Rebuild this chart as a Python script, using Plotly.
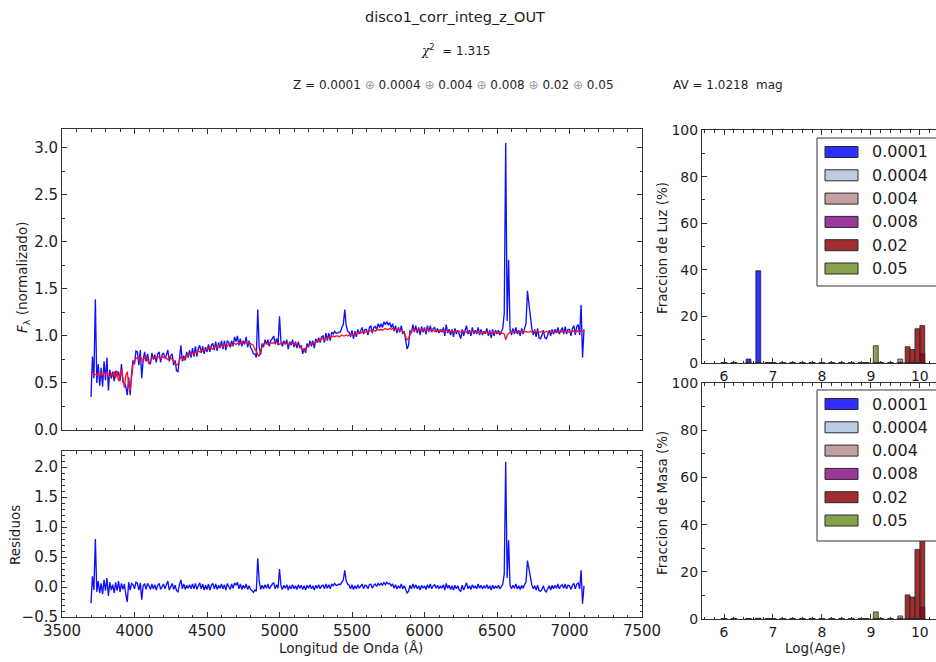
import numpy as np
import plotly.graph_objects as go

W, H = 936, 662

# ---------------------------------------------------------------- spectrum
wave = np.arange(3700, 7101, 10)  # Angstrom sampling grid

model_flux = [
    0.62, 0.60, 0.60, 0.59, 0.58, 0.60, 0.57, 0.60, 0.58, 0.61,  # 3700
    0.59, 0.62, 0.57, 0.56, 0.60, 0.58, 0.62, 0.55, 0.63, 0.52,  # 3800
    0.60, 0.64, 0.55, 0.45, 0.58, 0.62, 0.48, 0.42, 0.55, 0.70,  # 3900
    0.73, 0.76, 0.77, 0.74, 0.78, 0.76, 0.72, 0.78, 0.77, 0.75,  # 4000
    0.70, 0.74, 0.77, 0.78, 0.76, 0.77, 0.78, 0.77, 0.76, 0.78,  # 4100
    0.77, 0.79, 0.76, 0.75, 0.78, 0.77, 0.75, 0.73, 0.71, 0.69,  # 4200
    0.70, 0.75, 0.78, 0.76, 0.74, 0.78, 0.80, 0.79, 0.81, 0.80,  # 4300
    0.82, 0.81, 0.83, 0.82, 0.84, 0.83, 0.85, 0.84, 0.86, 0.85,  # 4400
    0.87, 0.86, 0.88, 0.87, 0.86, 0.88, 0.89, 0.88, 0.90, 0.89,  # 4500
    0.90, 0.89, 0.91, 0.90, 0.89, 0.91, 0.92, 0.90, 0.91, 0.92,  # 4600
    0.91, 0.92, 0.93, 0.92, 0.93, 0.92, 0.93, 0.94, 0.92, 0.93,  # 4700
    0.92, 0.91, 0.90, 0.86, 0.84, 0.80, 0.78, 0.84, 0.89, 0.91,  # 4800
    0.92, 0.93, 0.91, 0.92, 0.93, 0.92, 0.93, 0.94, 0.93, 0.92,  # 4900
    0.91, 0.92, 0.93, 0.92, 0.93, 0.92, 0.91, 0.92, 0.93, 0.92,  # 5000
    0.91, 0.92, 0.91, 0.90, 0.89, 0.87, 0.85, 0.85, 0.87, 0.89,  # 5100
    0.90, 0.91, 0.92, 0.93, 0.92, 0.94, 0.95, 0.94, 0.96, 0.97,  # 5200
    0.97, 0.96, 0.98, 0.97, 0.99, 0.98, 0.99, 1.00, 0.99, 1.00,  # 5300
    1.00, 0.99, 1.00, 1.01, 1.00, 1.00, 1.01, 1.00, 1.01, 1.02,  # 5400
    1.02, 1.01, 1.03, 1.02, 1.03, 1.04, 1.03, 1.04, 1.05, 1.04,  # 5500
    1.05, 1.04, 1.05, 1.06, 1.05, 1.06, 1.05, 1.06, 1.07, 1.06,  # 5600
    1.07, 1.06, 1.07, 1.08, 1.07, 1.07, 1.08, 1.07, 1.08, 1.07,  # 5700
    1.07, 1.06, 1.07, 1.06, 1.06, 1.05, 1.03, 1.00, 0.96, 0.97,  # 5800
    1.03, 1.06, 1.07, 1.06, 1.07, 1.06, 1.07, 1.06, 1.07, 1.06,  # 5900
    1.07, 1.06, 1.07, 1.06, 1.06, 1.07, 1.06, 1.05, 1.06, 1.05,  # 6000
    1.06, 1.05, 1.06, 1.05, 1.05, 1.06, 1.05, 1.04, 1.05, 1.05,  # 6100
    1.04, 1.05, 1.05, 1.04, 1.05, 1.04, 1.04, 1.05, 1.04, 1.04,  # 6200
    1.05, 1.04, 1.04, 1.05, 1.04, 1.04, 1.05, 1.04, 1.03, 1.04,  # 6300
    1.04, 1.03, 1.04, 1.04, 1.03, 1.04, 1.03, 1.04, 1.03, 1.04,  # 6400
    1.04, 1.03, 1.04, 1.03, 1.03, 1.02, 0.96, 1.01, 1.03, 1.04,  # 6500
    1.04, 1.05, 1.04, 1.04, 1.05, 1.04, 1.04, 1.05, 1.04, 1.04,  # 6600
    1.05, 1.04, 1.04, 1.05, 1.04, 1.04, 1.05, 1.04, 1.05, 1.04,  # 6700
    1.04, 1.05, 1.04, 1.04, 1.05, 1.04, 1.04, 1.05, 1.04, 1.05,  # 6800
    1.04, 1.05, 1.04, 1.05, 1.04, 1.05, 1.04, 1.05, 1.05, 1.04,  # 6900
    1.05, 1.04, 1.05, 1.05, 1.04, 1.05, 1.05, 1.04, 1.05, 1.05,  # 7000
    1.05,                                                        # 7100
]

residual = [
    -0.27, 0.18, -0.05, 0.80, -0.08, 0.10, -0.10, 0.06, -0.12, 0.12,  # 3700
    -0.06, 0.15, -0.15, 0.08, -0.05, 0.04, -0.10, 0.08, -0.06, 0.10,  # 3800
    -0.08, 0.06, -0.04, 0.05, -0.12, -0.25, 0.08, -0.05, 0.06, 0.04,  # 3900
    -0.03, 0.08, 0.06, -0.05, 0.07, -0.21, 0.03, 0.05, -0.04, 0.06,   # 4000
    0.02, -0.04, 0.05, -0.03, 0.04, -0.05, 0.03, 0.06, -0.04, 0.02,   # 4100
    0.05, -0.03, 0.04, 0.10, -0.05, 0.02, 0.06, -0.04, 0.03, -0.06,   # 4200
    -0.08, 0.04, 0.12, -0.03, 0.05, -0.04, 0.03, -0.02, 0.04, -0.03,  # 4300
    0.05, -0.03, 0.06, -0.04, 0.03, 0.07, -0.03, 0.05, -0.05, 0.03,   # 4400
    -0.04, 0.05, -0.05, 0.03, 0.06, -0.03, 0.05, -0.04, 0.03, -0.02,  # 4500
    0.05, -0.03, 0.04, -0.05, 0.06, 0.02, -0.04, 0.05, -0.02, 0.07,   # 4600
    0.03, 0.08, -0.03, 0.05, -0.04, 0.03, -0.02, 0.05, -0.04, 0.02,   # 4700
    -0.04, -0.06, -0.09, -0.05, -0.07, 0.48, 0.10, -0.04, 0.03, -0.03,  # 4800
    0.04, -0.02, 0.05, -0.03, 0.02, 0.05, 0.07, -0.03, 0.04, -0.02,   # 4900
    0.30, 0.02, -0.04, 0.03, -0.02, 0.04, -0.05, 0.02, -0.03, 0.04,   # 5000
    -0.03, 0.02, -0.04, 0.04, -0.02, 0.03, -0.04, 0.02, -0.05, 0.03,  # 5100
    -0.02, 0.04, -0.03, 0.02, -0.05, 0.03, -0.02, 0.04, -0.03, 0.02,  # 5200
    0.03, -0.03, 0.05, -0.02, 0.04, -0.03, 0.05, 0.02, 0.06, 0.03,    # 5300
    0.03, 0.05, 0.04, 0.08, 0.12, 0.28, 0.10, 0.05, 0.03, -0.03,      # 5400
    0.04, -0.04, 0.02, -0.03, 0.04, -0.02, 0.02, 0.05, -0.03, 0.03,   # 5500
    0.02, -0.03, 0.04, 0.05, -0.02, 0.03, 0.05, 0.01, 0.06, 0.03,     # 5600
    0.06, 0.03, 0.08, 0.04, 0.08, 0.05, 0.06, 0.02, 0.05, -0.02,      # 5700
    0.04, -0.03, 0.02, -0.02, 0.05, -0.03, 0.02, -0.04, -0.10, -0.07, # 5800
    0.03, -0.03, 0.05, -0.02, 0.04, -0.03, 0.02, -0.05, 0.03, -0.02,  # 5900
    0.02, -0.04, 0.04, -0.02, 0.05, -0.03, 0.02, 0.04, -0.02, 0.03,   # 6000
    -0.03, 0.02, -0.02, 0.04, -0.05, 0.06, -0.02, 0.03, -0.04, 0.02,  # 6100
    -0.05, 0.03, -0.03, 0.02, -0.05, -0.07, 0.03, -0.05, 0.02, 0.07,  # 6200
    -0.03, 0.02, -0.04, 0.04, -0.02, 0.02, -0.03, 0.05, -0.02, 0.03,  # 6300
    -0.03, 0.02, -0.02, 0.04, -0.03, 0.02, -0.05, 0.03, -0.03, 0.02,  # 6400
    -0.02, 0.03, -0.03, 0.02, 0.05, 0.22, 2.09, 0.15, 0.78, 0.03,     # 6500
    -0.03, 0.03, -0.02, 0.05, -0.03, 0.02, -0.04, 0.03, -0.02, 0.04,  # 6600
    0.08, 0.44, 0.30, 0.20, 0.04, -0.03, 0.02, -0.05, 0.03, -0.06,    # 6700
    -0.07, -0.04, 0.02, -0.06, -0.08, -0.03, 0.02, -0.05, 0.03, -0.03,  # 6800
    0.03, -0.02, 0.05, -0.03, 0.02, 0.04, -0.02, 0.05, -0.03, 0.03,   # 6900
    0.02, -0.04, 0.03, 0.06, -0.03, 0.05, 0.07, -0.03, 0.28, -0.28,   # 7000
    0.02,                                                             # 7100
]

observed_flux = np.array(model_flux) + np.array(residual)

# ---------------------------------------------------------------- population
log_age = [6.0, 6.2, 6.5, 6.7, 6.9, 7.0, 7.2, 7.4, 7.6, 7.8, 8.0, 8.2,
           8.4, 8.6, 8.8, 8.9, 9.1, 9.2, 9.4, 9.6, 9.75, 9.85, 9.95, 10.05]

metal_labels = ["0.0001", "0.0004", "0.004", "0.008", "0.02", "0.05"]
metal_colors = ["rgba(0,0,255,0.82)", "rgba(176,196,222,0.85)",
                "rgba(188,143,143,0.85)", "rgba(128,0,128,0.78)",
                "rgba(139,0,0,0.82)", "rgba(107,142,35,0.82)"]

#               6.0  6.2  6.5  6.7   6.9 7.0 7.2 7.4 7.6 7.8 8.0 8.2 8.4 8.6 8.8 8.9 9.1 9.2 9.4 9.6  9.75 9.85 9.95  10.05
light_z0001 = [0, 0, 1.7, 39.6, 0, 0, 0, 0, 0, 0, 0, 0, 0, 0, 0, 0, 0, 0, 0, 0, 0, 0, 0, 0]
light_z0004 = [0, 0, 0, 0, 0, 0, 0, 0, 0, 0, 0, 0, 0, 0, 0, 0, 0, 0, 0, 0, 0, 0, 0, 0]
light_z004 = [0, 0, 0, 0, 0, 0, 0, 0, 0, 0, 0, 0, 0, 0, 0, 0, 0, 0, 0, 1.7, 0, 0, 0, 0]
light_z008 = [0, 0, 0, 0, 0, 0, 0, 0, 0, 0, 0, 0, 0, 0, 0, 0, 0, 0, 0, 0, 0, 0, 0, 4.0]
light_z02 = [0, 0, 0, 0, 0, 0, 0, 0, 0, 0, 0, 0, 0, 0, 0, 0, 0, 0, 0, 0, 7.0, 5.8, 14.7, 16.1]
light_z05 = [0, 0, 0, 0, 0, 0, 0, 0, 0, 0, 0, 0, 0, 0, 0, 0, 7.4, 0, 0, 0, 0, 0, 0, 0]

mass_z0001 = [0, 0, 0.05, 0.3, 0, 0, 0, 0, 0, 0, 0, 0, 0, 0, 0, 0, 0, 0, 0, 0, 0, 0, 0, 0]
mass_z0004 = [0, 0, 0, 0, 0, 0, 0, 0, 0, 0, 0, 0, 0, 0, 0, 0, 0, 0, 0, 0, 0, 0, 0, 0]
mass_z004 = [0, 0, 0, 0, 0, 0, 0, 0, 0, 0, 0, 0, 0, 0, 0, 0, 0, 0, 0, 1.3, 0, 0, 0, 0]
mass_z008 = [0, 0, 0, 0, 0, 0, 0, 0, 0, 0, 0, 0, 0, 0, 0, 0, 0, 0, 0, 0, 0, 0, 0, 5.0]
mass_z02 = [0, 0, 0, 0, 0, 0, 0, 0, 0, 0, 0, 0, 0, 0, 0, 0, 0, 0, 0, 0, 10.2, 9.3, 29.5, 42.0]
mass_z05 = [0, 0, 0, 0, 0, 0, 0, 0, 0, 0, 0, 0, 0, 0, 0, 0, 3.0, 0, 0, 0, 0, 0, 0, 0]

light_sets = [light_z0001, light_z0004, light_z004, light_z008, light_z02, light_z05]
mass_sets = [mass_z0001, mass_z0004, mass_z004, mass_z008, mass_z02, mass_z05]

chi2 = 1.315
av_mag = 1.0218
title_text = "disco1_corr_integ_z_OUT"

# ---------------------------------------------------------------- helpers
def fx(px):
    return px / W


def fy(py):
    return 1 - py / H


INK = "#1e1e1e"
AX = "#333333"
FONT = "DejaVu Sans"

fig = go.Figure()

# spectrum: observed (blue) under the fitted model (red)
fig.add_trace(go.Scatter(x=wave, y=observed_flux, mode="lines",
                         line=dict(color="#1010ff", width=1.35),
                         xaxis="x", yaxis="y", showlegend=False))
fig.add_trace(go.Scatter(x=wave, y=model_flux, mode="lines",
                         line=dict(color="#ff1020", width=1.3),
                         xaxis="x", yaxis="y", showlegend=False))
# residuals
fig.add_trace(go.Scatter(x=wave, y=residual, mode="lines",
                         line=dict(color="#1010ff", width=1.35),
                         xaxis="x2", yaxis="y2", showlegend=False))

# population histograms
for ax_pair, sets in ((("x3", "y3"), light_sets), (("x4", "y4"), mass_sets)):
    for vals, col in zip(sets, metal_colors):
        fig.add_trace(go.Bar(x=log_age, y=vals, width=0.1,
                             marker=dict(color=col, line=dict(color="#2a2a2a", width=0.8)),
                             xaxis=ax_pair[0], yaxis=ax_pair[1], showlegend=False))
    # outlines of empty age bins along the zero line
    fig.add_trace(go.Scatter(x=log_age, y=[0] * len(log_age), mode="markers",
                             marker=dict(symbol="line-ew", size=5,
                                         line=dict(color="#2a2a2a", width=1.2)),
                             cliponaxis=False,
                             xaxis=ax_pair[0], yaxis=ax_pair[1], showlegend=False))

tickfont = dict(family=FONT, size=15, color=INK)
tickfont_r = dict(family=FONT, size=14, color=INK)
base = dict(showline=True, linecolor=AX, linewidth=1, ticks="inside", ticklen=5,
            tickwidth=1, tickcolor=AX, showgrid=False, zeroline=False,
            automargin=False)

main_x = [fx(62), fx(642)]
right_x = [fx(702), 1.0]

fig.update_layout(
    width=W, height=H,
    margin=dict(l=0, r=0, t=0, b=0, pad=0, autoexpand=False),
    paper_bgcolor="white", plot_bgcolor="white", barmode="overlay",
    showlegend=False,
    font=dict(family=FONT, color=INK),
    xaxis=dict(**base, domain=main_x, anchor="y", range=[3500, 7500],
               tick0=3500, dtick=500, showticklabels=False, mirror="ticks",
               minor=dict(ticks="inside", ticklen=2.5, dtick=100, tickcolor=AX)),
    yaxis=dict(**base, domain=[fy(430), fy(129)], anchor="x", range=[0, 3.2],
               dtick=0.5, tickformat=".1f", mirror="ticks", tickfont=tickfont,
               minor=dict(ticks="inside", ticklen=2.5, dtick=0.25, tickcolor=AX)),
    xaxis2=dict(**base, domain=main_x, anchor="y2", range=[3500, 7500],
                tick0=3500, dtick=500, mirror="ticks", tickfont=tickfont,
                minor=dict(ticks="inside", ticklen=2.5, dtick=100, tickcolor=AX)),
    yaxis2=dict(**base, domain=[fy(617), fy(451)], anchor="x2", range=[-0.5, 2.27],
                dtick=0.5, tickformat=".1f", mirror="ticks", tickfont=tickfont,
                minor=dict(ticks="inside", ticklen=2.5, dtick=0.1, tickcolor=AX)),
    xaxis3=dict(**base, domain=right_x, anchor="y3", range=[5.55, 10.33],
                dtick=1, mirror="ticks", tickfont=tickfont_r,
                minor=dict(ticks="inside", ticklen=2.5, dtick=0.2, tickcolor=AX)),
    yaxis3=dict(**base, domain=[fy(363), fy(130)], anchor="x3", range=[0, 100],
                dtick=20, tickfont=tickfont_r,
                minor=dict(ticks="inside", ticklen=2.5, dtick=10, tickcolor=AX)),
    xaxis4=dict(**base, domain=right_x, anchor="y4", range=[5.55, 10.33],
                dtick=1, mirror="ticks", tickfont=tickfont_r,
                minor=dict(ticks="inside", ticklen=2.5, dtick=0.2, tickcolor=AX)),
    yaxis4=dict(**base, domain=[fy(619), fy(383)], anchor="x4", range=[0, 100],
                dtick=20, tickfont=tickfont_r,
                minor=dict(ticks="inside", ticklen=2.5, dtick=10, tickcolor=AX)),
)

ann = []


def text(x, y, s, size, angle=0, xanchor="center"):
    ann.append(dict(x=fx(x), y=fy(y), xref="paper", yref="paper", text=s,
                    showarrow=False, textangle=angle, xanchor=xanchor,
                    yanchor="middle", font=dict(family=FONT, size=size, color=INK)))


# header lines
text(455, 17, title_text, 14.5)
text(455, 50, "<span style='font-family:DejaVu Serif'><i>χ</i></span>"
              "<sup>2</sup>  = %.3f" % chi2, 12)
sep = " <span style='color:#9a9a9a'>⊕</span> "
text(453, 85, "Z = " + sep.join(metal_labels), 12)
text(728, 85, "AV = %.4f  mag" % av_mag, 12)

# axis titles
text(23, 278, "<i>F</i><sub>λ</sub> (normalizado)", 13.5, angle=-90)
text(15, 535, "Residuos", 13.5, angle=-90)
text(351, 648, "Longitud de Onda (Å)", 13.5)
text(662, 248, "Fraccion de Luz (%)", 13.5, angle=-90)
text(662, 503, "Fraccion de Masa (%)", 13.5, angle=-90)
text(815, 648, "Log(Age)", 13.5)

# metallicity legends drawn inside both histogram panels
shapes = []
for box_top, box_bot in ((138, 286), (390, 541)):
    shapes.append(dict(type="rect", xref="paper", yref="paper", layer="above",
                       x0=fx(817), x1=fx(950), y0=fy(box_bot), y1=fy(box_top),
                       fillcolor="white", line=dict(color=AX, width=1)))
    for k, (lab, col) in enumerate(zip(metal_labels, metal_colors)):
        cy = box_top + 14 + 23.3 * k
        shapes.append(dict(type="rect", xref="paper", yref="paper", layer="above",
                           x0=fx(825), x1=fx(858), y0=fy(cy + 5.5), y1=fy(cy - 5.5),
                           fillcolor=col, line=dict(color="#2a2a2a", width=1)))
        text(870, cy, lab, 16, xanchor="left")

fig.update_layout(annotations=ann, shapes=shapes)
fig.write_html("out.html")
